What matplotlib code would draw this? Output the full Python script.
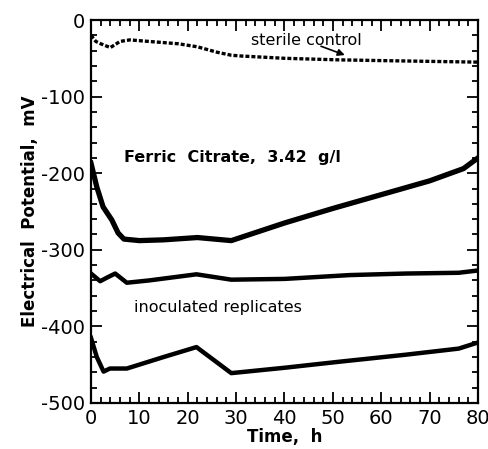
import matplotlib
matplotlib.use('Agg')
import matplotlib.pyplot as plt
from matplotlib.ticker import MultipleLocator

plt.rcParams['axes.unicode_minus'] = False

# sterile control
t_sterile = [0, 1, 2, 4, 6, 8, 12, 18, 22, 26, 29, 31, 40, 51, 60, 70, 80]
e_sterile = [-20, -28, -31, -36, -28, -26, -28, -31, -35, -42, -46, -47, -50, -52, -53, -54, -55]

# ferric citrate inoculated replicates
t_ferric = [0, 1.2, 2.5, 4.3, 5.6, 6.8, 10, 15, 22, 29, 40, 50, 60, 70, 77, 80]
e_ferric = [-187, -218, -244, -261, -278, -286, -288, -287, -284, -288, -265, -246, -228, -210, -194, -180]

t_rep2 = [0, 1.9, 3.4, 5, 7.4, 12, 21.8, 29, 40, 53.5, 65, 76, 80]
e_rep2 = [-331, -341, -336, -331, -343, -340, -332, -339, -338, -333, -331, -330, -327]

t_rep3 = [0, 1.2, 2.6, 3.9, 7.4, 15, 21.8, 29, 40, 51.5, 65, 76, 80]
e_rep3 = [-415, -440, -459, -455, -455, -440, -427, -461, -454, -446, -437, -429, -421]

fig = plt.figure(figsize=(4.89, 4.49), dpi=100)
ax = fig.add_axes([91/489, 46/449, 387/489, 383/449])

ax.plot(t_sterile, e_sterile, color='black', lw=2.4, ls=(0, (1.2, 0.6)))
ax.plot(t_ferric, e_ferric, color='black', lw=3.8, solid_joinstyle='round')
ax.plot(t_rep2, e_rep2, color='black', lw=3.2, solid_joinstyle='round')
ax.plot(t_rep3, e_rep3, color='black', lw=3.2, solid_joinstyle='round')

ax.text(44.5, -27, 'sterile control', fontsize=11.5, ha='center', va='center')
ax.annotate('', xy=(53, -47), xytext=(47, -33),
            arrowprops=dict(arrowstyle='-|>', color='black', lw=1.2))
ax.text(6.8, -180, 'Ferric  Citrate,  3.42  g/l', fontsize=11.5,
        fontweight='bold', va='center')
ax.text(8.8, -375, 'inoculated replicates', fontsize=11.5, va='center')

ax.set_xlim(0, 80)
ax.set_ylim(-500, 0)
ax.xaxis.set_major_locator(MultipleLocator(10))
ax.xaxis.set_minor_locator(MultipleLocator(2))
ax.yaxis.set_major_locator(MultipleLocator(100))
ax.yaxis.set_minor_locator(MultipleLocator(20))
ax.tick_params(which='both', direction='in', top=True, right=True, width=1.3)
ax.tick_params(which='major', length=8, labelsize=14, pad=4)
ax.tick_params(which='minor', length=4)
for s in ax.spines.values():
    s.set_linewidth(1.6)

ax.set_xlabel('Time,  h', fontsize=12, fontweight='bold', labelpad=0)
ax.set_ylabel('Electrical  Potential,  mV', fontsize=12, fontweight='bold', labelpad=2)

fig.savefig('out.png', dpi=100)
